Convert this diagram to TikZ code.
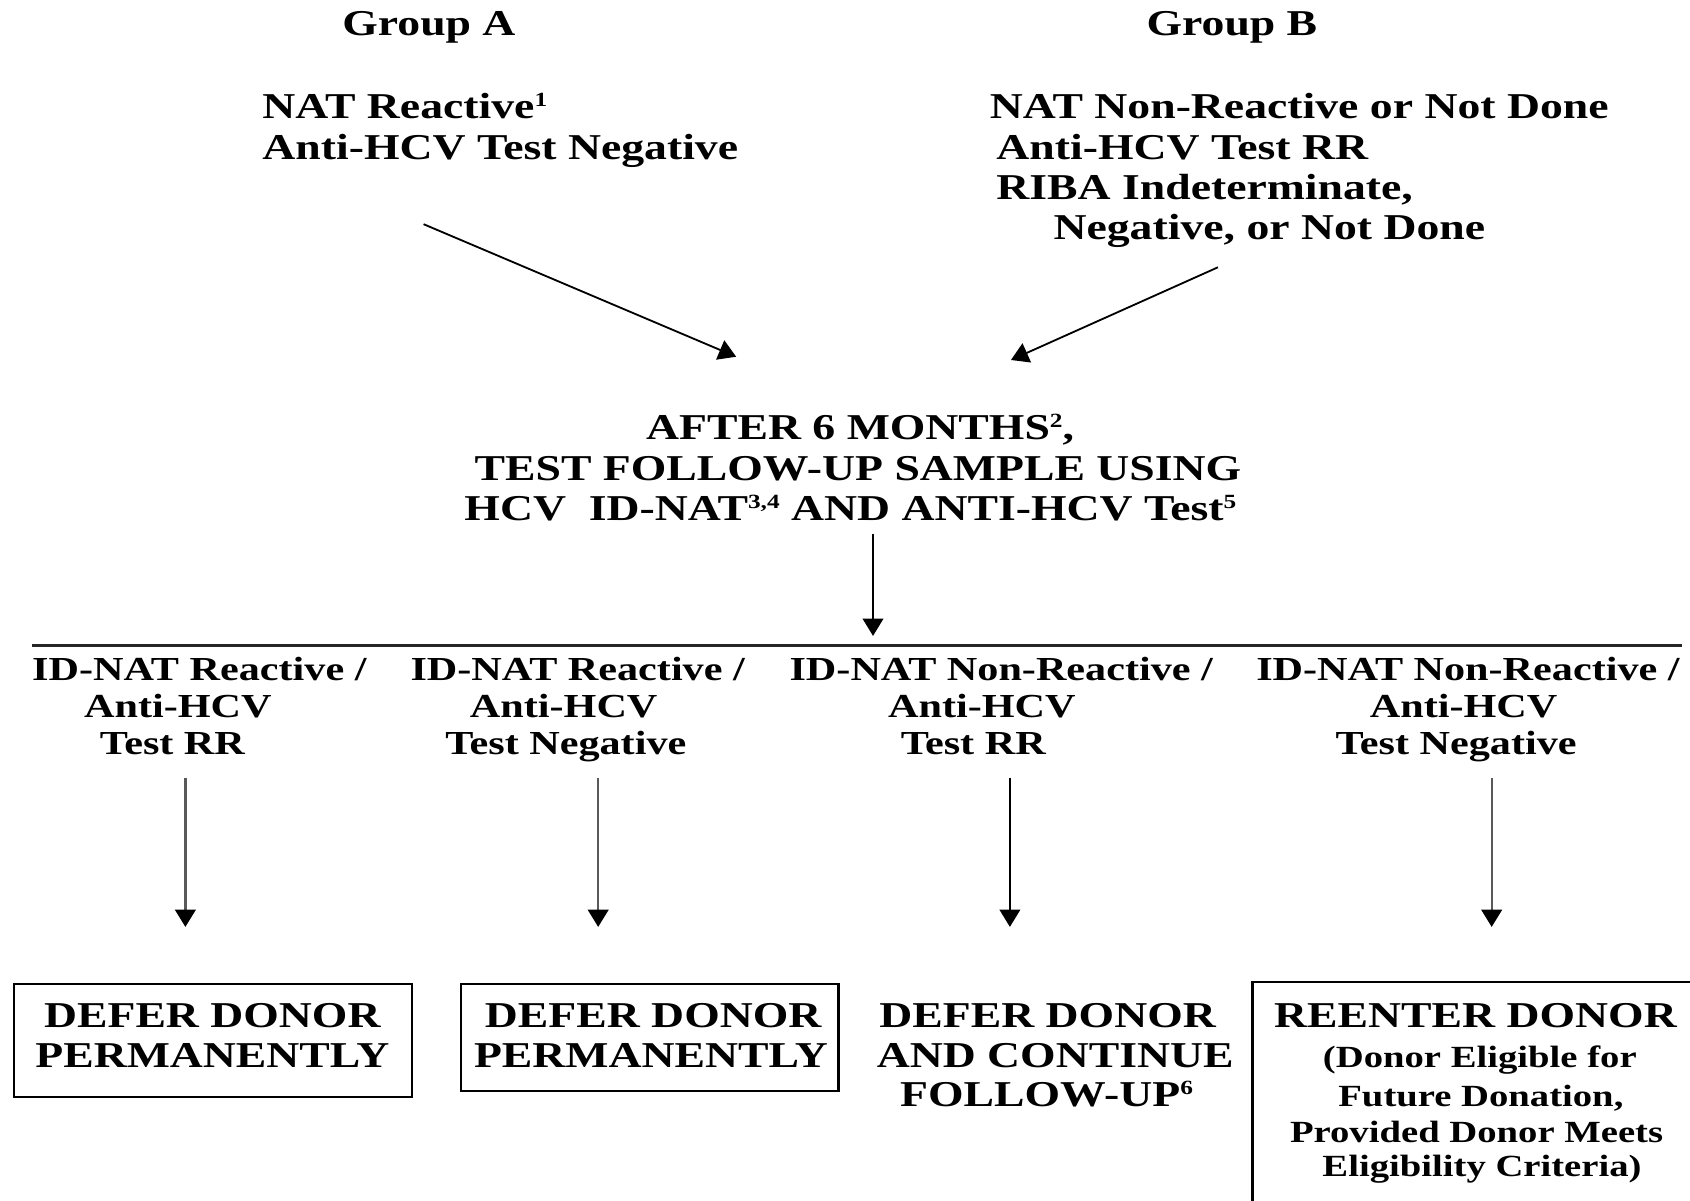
\documentclass[tikz,border=0pt]{standalone}
\usepackage{fontspec}
\setmainfont{Liberation Serif}[FakeStretch=1.256]
\usetikzlibrary{arrows.meta}
\newcommand\supnum[1]{\raisebox{4.3pt}{\fontsize{7.2}{7.2}\selectfont #1}}
\newcommand\supnumsm[1]{\raisebox{3.9pt}{\fontsize{6.6}{6.6}\selectfont #1}}
\tikzset{
  hd/.style={font=\bfseries\fontsize{13}{15}\selectfont, inner sep=0pt, anchor=base},
  hdl/.style={hd, anchor=base west},
  colhd/.style={font=\bfseries\fontsize{12}{14}\selectfont, inner sep=0pt, anchor=base},
  smt/.style={font=\bfseries\fontsize{11}{13}\selectfont, inner sep=0pt, anchor=base},
  arr/.style={-{Triangle[length=6.2pt,width=7.4pt]}, line width=0.65pt},
  grayarr/.style={arr, draw=black!65, line width=0.8pt, -{Triangle[length=6.2pt,width=7.4pt,fill=black,color=black]}},
  outbox/.style={draw, line width=0.8pt, inner sep=0pt, anchor=north west},
}
\begin{document}
\begin{tikzpicture}[x=0.385pt, y=-0.385pt]
\useasboundingbox (0,0) rectangle (1568,1114);
\clip (0,0) rectangle (1568,1114);
\fill[white] (0,0) rectangle (1568,1114);

% Group headings
\node[hd] (ga) at (398,33) {Group A};
\node[hd] (gb) at (1143,33) {Group B};

\node[hdl] (ga1) at (243,110) {NAT Reactive\supnum{1}};
\node[hdl] (ga2) at (243,148) {Anti-HCV Test Negative};

\node[hdl] (gb1) at (918,110) {NAT Non-Reactive or Not Done};
\node[hdl] (gb2) at (924,148) {Anti-HCV Test RR};
\node[hdl] (gb3) at (924,185) {RIBA Indeterminate,};
\node[hdl] (gb4) at (977,222) {Negative, or Not Done};

% middle block
\node[hd] (m1) at (798,408) {AFTER 6 MONTHS\supnum{2},};
\node[hd] (m2) at (796,446) {TEST FOLLOW-UP SAMPLE USING};
\node[hd] (m3) at (789,483) {HCV\ \ ID-NAT\supnum{3,4} AND ANTI-HCV Test\supnum{5}};

% arrows to middle
\coordinate (aS) at (393,208);
\coordinate (aE) at (683,331);
\coordinate (bS) at (1130,248);
\coordinate (bE) at (938,334);
\draw[arr] (aS) -- (aE);
\draw[arr] (bS) -- (bE);

\coordinate (dS) at (810,495);
\coordinate (dE) at (810,590);
\draw[arr] (dS) -- (dE);

% horizontal rule
\coordinate (h1) at (30,599);
\coordinate (h2) at (1561,599);
\draw[line width=0.9pt, black!85] (h1) -- (h2);

% column headings
\node[colhd] (c11) at (185,631) {ID-NAT Reactive /};
\node[colhd] (c12) at (165,666) {Anti-HCV};
\node[colhd] (c13) at (160,700) {Test RR};

\node[colhd] (c21) at (536,631) {ID-NAT Reactive /};
\node[colhd] (c22) at (523,666) {Anti-HCV};
\node[colhd] (c23) at (525,700) {Test Negative};

\node[colhd] (c31) at (929,631) {ID-NAT Non-Reactive /};
\node[colhd] (c32) at (911,666) {Anti-HCV};
\node[colhd] (c33) at (903,700) {Test RR};

\node[colhd] (c41) at (1362,631) {ID-NAT Non-Reactive /};
\node[colhd] (c42) at (1358,666) {Anti-HCV};
\node[colhd] (c43) at (1351,700) {Test Negative};

% vertical arrows
\coordinate (v1s) at (172,722); \coordinate (v1e) at (172,860);
\coordinate (v2s) at (555,722); \coordinate (v2e) at (555,860);
\coordinate (v3s) at (937,722); \coordinate (v3e) at (937,860);
\coordinate (v4s) at (1384,722); \coordinate (v4e) at (1384,860);
\draw[grayarr] (v1s) -- (v1e);
\draw[grayarr] (v2s) -- (v2e);
\draw[arr] (v3s) -- (v3e);
\draw[grayarr] (v4s) -- (v4e);

% outcome boxes
\node[outbox, minimum width={369*0.385pt}, minimum height={105*0.385pt}] (box1) at (12,912) {};
\node[hd] (o11) at (197,953) {DEFER DONOR};
\node[hd] (o12) at (197,990) {PERMANENTLY};

\node[outbox, minimum width={350*0.385pt}, minimum height={99*0.385pt}] (box2) at (427,912) {};
\node[hd] (o21) at (606,953) {DEFER DONOR};
\node[hd] (o22) at (604,990) {PERMANENTLY};

\node[hd] (o31) at (972,953) {DEFER DONOR};
\node[hd] (o32) at (979,990) {AND CONTINUE};
\node[hd] (o33) at (971,1027) {FOLLOW-UP\supnum{6}};

\node[outbox, minimum width={430*0.385pt}, minimum height={240*0.385pt}] (box4) at (1161,910) {};
\node[hd] (o41) at (1369,953) {REENTER DONOR};
\node[smt] (o42) at (1373,990) {(Donor Eligible for};
\node[smt] (o43) at (1374,1027) {Future Donation,};
\node[smt] (o44) at (1370,1060) {Provided Donor Meets};
\node[smt] (o45) at (1375,1092) {Eligibility Criteria)};
\end{tikzpicture}
\end{document}
